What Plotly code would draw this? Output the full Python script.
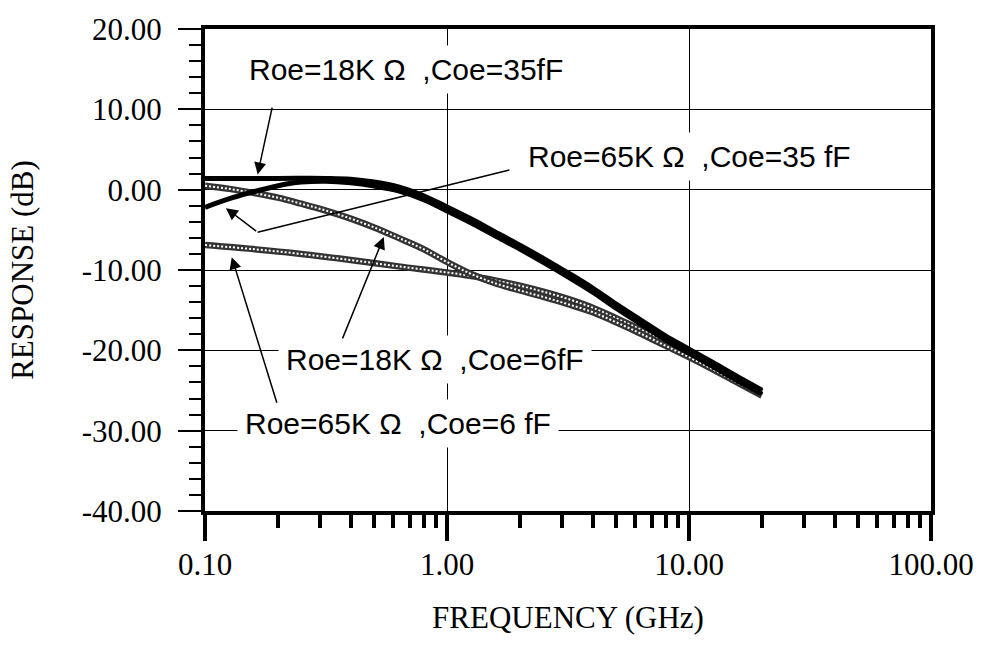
import numpy as np
import plotly.graph_objects as go

# ---------------- data ----------------
# Roe=18K, Coe=35fF  (thick black)
f_c1 = [0.1, 0.2, 0.316, 0.4, 0.5, 0.63, 0.8, 1.0, 1.26, 1.58, 2.0, 2.5, 3.16, 4.0, 5.0, 6.3, 7.9, 10.0, 12.6, 15.8, 20.0]
r_c1 = [1.4, 1.4, 1.4, 1.3, 0.95, 0.35, -0.75, -2.15, -3.65, -5.25, -6.9, -8.55, -10.35, -12.25, -14.25, -16.2, -18.1, -19.85, -21.55, -23.25, -24.95]
# Roe=65K, Coe=35fF  (thick black)
f_c2 = [0.1, 0.13, 0.18, 0.217, 0.25, 0.316, 0.4, 0.5, 0.63, 0.8, 1.0, 1.26, 1.58, 2.0, 2.5, 3.16, 4.0, 5.0, 6.3, 7.9, 10.0, 12.6, 15.8, 20.0]
r_c2 = [-2.2, -1.0, 0.15, 0.7, 0.95, 1.05, 0.85, 0.45, -0.15, -1.25, -2.65, -4.15, -5.75, -7.4, -9.05, -10.85, -12.75, -14.75, -16.7, -18.6, -20.35, -22.05, -23.75, -25.45]
# Roe=18K, Coe=6fF  (hatched)
f_c3 = [0.1, 0.126, 0.158, 0.2, 0.25, 0.316, 0.4, 0.5, 0.63, 0.8, 1.0, 1.26, 1.58, 2.0, 2.5, 3.16, 4.0, 5.0, 6.3, 7.9, 10.0, 12.6, 15.8, 20.0]
r_c3 = [0.5, 0.1, -0.4, -1.0, -1.75, -2.6, -3.6, -4.7, -6.0, -7.4, -9.0, -10.5, -11.65, -12.55, -13.35, -14.25, -15.25, -16.5, -17.9, -19.35, -20.85, -22.4, -24.0, -25.65]
# Roe=65K, Coe=6fF  (hatched)
f_c4 = [0.1, 0.158, 0.25, 0.4, 0.63, 1.0, 1.26, 1.58, 2.0, 2.5, 3.16, 4.0, 5.0, 6.3, 7.9, 10.0, 12.6, 15.8, 20.0]
r_c4 = [-6.9, -7.4, -8.0, -8.75, -9.55, -10.3, -10.75, -11.3, -11.95, -12.7, -13.6, -14.7, -16.0, -17.4, -18.9, -20.4, -22.0, -23.6, -25.2]

x_tickvals = [0.1, 1, 10, 100]
x_ticktext = ["0.10", "1.00", "10.00", "100.00"]
x_minorvals = [m * d for d in (0.1, 1, 10) for m in range(2, 10)]
y_tickvals = [20, 10, 0, -10, -20, -30, -40]
y_ticktext = ["20.00", "10.00", "0.00", "-10.00", "-20.00", "-30.00", "-40.00"]

labels = [
    "Roe=18K\u00a0Ω\u00a0\u00a0,Coe=35fF",
    "Roe=65K\u00a0Ω\u00a0\u00a0,Coe=35\u00a0fF",
    "Roe=18K\u00a0Ω\u00a0\u00a0,Coe=6fF",
    "Roe=65K\u00a0Ω\u00a0\u00a0,Coe=6\u00a0fF",
]
# label centres (GHz, dB)
label_pos = [(0.68, 15.0), (10.0, 4.1), (0.89, -21.2), (0.63, -29.1)]
# arrows: (tail GHz, tail dB, tip GHz, tip dB, head)
arrows = [
    (0.190, 10.4, 0.165, 1.9, 2),
    (1.836, 2.5, 0.165, -5.3, 0),
    (0.165, -5.3, 0.122, -2.3, 2),
    (0.368, -18.7, 0.548, -5.9, 2),
    (0.199, -26.7, 0.129, -8.4, 2),
]

# ---------------- figure ----------------
fig = go.Figure()

def hatched(f, r):
    fig.add_trace(go.Scatter(x=f, y=r, mode="lines", line=dict(color="#333333", width=6.5, shape="spline"),
                             showlegend=False, hoverinfo="skip"))
    fig.add_trace(go.Scatter(x=f, y=r, mode="lines", line=dict(color="white", width=2, dash="2px,2px", shape="spline"),
                             showlegend=False, hoverinfo="skip"))

hatched(f_c4, r_c4)
hatched(f_c3, r_c3)
for f, r in ((f_c1, r_c1), (f_c2, r_c2)):
    fig.add_trace(go.Scatter(x=f, y=r, mode="lines", line=dict(color="black", width=5, shape="spline"),
                             showlegend=False, hoverinfo="skip"))

for txt, (lx, ly) in zip(labels, label_pos):
    fig.add_annotation(x=np.log10(lx), y=ly, xref="x", yref="y", text=txt, showarrow=False,
                       bgcolor="white", borderpad=7,
                       font=dict(family="Liberation Sans, Arial, sans-serif", size=30, color="black"))

for tx, ty, hx, hy, head in arrows:
    fig.add_annotation(x=np.log10(hx), y=hy, ax=np.log10(tx), ay=ty, xref="x", yref="y",
                       axref="x", ayref="y", text="", showarrow=True, arrowhead=head,
                       arrowsize=1.6, arrowwidth=1.5, arrowcolor="black")

serif = "Liberation Serif"
tickfont = dict(family=serif, size=31, color="black")
fig.update_layout(
    width=986, height=666,
    margin=dict(l=205, r=50, t=20, b=155),
    paper_bgcolor="white", plot_bgcolor="white",
    font=dict(family=serif, size=31, color="black"),
    xaxis=dict(type="log", range=[-1, 2], tickvals=x_tickvals, ticktext=x_ticktext,
               tickfont=tickfont,
               ticks="outside", ticklen=26, tickwidth=3.5, tickcolor="black",
               showline=True, linewidth=4, linecolor="black", mirror=True,
               showgrid=True, gridcolor="black", gridwidth=1.2, zeroline=False,
               ticklabelstandoff=-3,
               minor=dict(tickvals=x_minorvals, ticks="outside", ticklen=13, tickwidth=3.5,
                          tickcolor="black", showgrid=False),
               title=dict(text="FREQUENCY (GHz)", font=dict(family=serif, size=31), standoff=26)),
    yaxis=dict(range=[-40, 20], tickvals=y_tickvals, ticktext=y_ticktext,
               tickfont=tickfont,
               ticks="outside", ticklen=23, tickwidth=2, tickcolor="black",
               showline=True, linewidth=4, linecolor="black", mirror=True,
               showgrid=True, gridcolor="black", gridwidth=1.2, zeroline=False,
               ticklabelstandoff=10,
               minor=dict(dtick=2, ticks="outside", ticklen=12, tickwidth=2, tickcolor="black", showgrid=False),
               title=dict(text="RESPONSE (dB)", font=dict(family=serif, size=31), standoff=40)),
)

fig.write_html("out.html")
